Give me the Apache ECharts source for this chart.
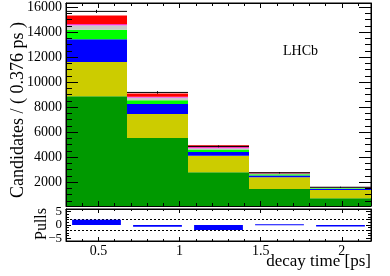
<!DOCTYPE html>
<html><head><meta charset="utf-8">
<script src="https://cdn.jsdelivr.net/npm/echarts@6/dist/echarts.min.js"></script>
<style>html,body{margin:0;padding:0;background:#fff}#c{width:390px;height:276px}</style>
</head><body><div id="c"></div>
<script>
// ---- data ----
const binEdges = [0.3, 0.676, 1.052, 1.428, 1.804, 2.18];
const binLabels = ['bin1', 'bin2', 'bin3', 'bin4', 'bin5'];
const compDarkGreen = [8870, 5520, 2790, 1450, 700];
const compYellow    = [2730, 1930, 1310, 940, 667];
const compBlue      = [1830, 790, 300, 130, 80];
const compLime      = [745, 310, 200, 100, 45];
const compGray      = [375, 210, 100, 60, 30];
const compMagenta   = [80, 60, 80, 30, 10];
const compRed       = [700, 265, 160, 60, 30];
const dataCounts = [15650, 9166, 4850, 2740, 1580];
const dataErrors = [125, 96, 70, 52, 40];
const pulls = [1.95, -0.7, -1.9, 0.25, -0.6];
const pullLimits = [2, -2];
const xMajorTicks = [0.5, 1, 1.5, 2];
const xLabelTexts = ['0.5', '1', '1.5', '2'];
const xMinorTicks = [0.4, 0.6, 0.7, 0.8, 0.9, 1.1, 1.2, 1.3, 1.4, 1.6, 1.7, 1.8, 1.9, 2.1];
const yMajorTicks = [2000, 4000, 6000, 8000, 10000, 12000, 14000, 16000];
const yMinorTicks = [500, 1000, 1500, 2500, 3000, 3500, 4500, 5000, 5500, 6500, 7000, 7500,
  8500, 9000, 9500, 10500, 11000, 11500, 12500, 13000, 13500, 14500, 15000, 15500];
const pullMajorTicks = [-5, 0, 5];
const pullLabelTexts = ['\u22125', '0', '5'];
const pullMinorTicks = [-4, -3, -2, -1, 1, 2, 3, 4];

const components = [
  { name: 'c1', data: compDarkGreen, color: '#009900' },
  { name: 'c2', data: compYellow, color: '#cccc00' },
  { name: 'c3', data: compBlue, color: '#0000ff' },
  { name: 'c4', data: compLime, color: '#00ff00' },
  { name: 'c5', data: compGray, color: '#c8c8c8' },
  { name: 'c6', data: compMagenta, color: '#ff00ff' },
  { name: 'c7', data: compRed, color: '#ff0000' }
];

const FONT = 'Liberation Serif';
const chart = echarts.init(document.getElementById('c'), null, { renderer: 'canvas' });

function xVal(grid, pos, ticks, len, showLine, label) {
  return {
    type: 'value', gridIndex: grid, min: binEdges[0], max: binEdges[binEdges.length - 1],
    position: pos, z: 10,
    axisLine: { show: showLine, onZero: false, lineStyle: { color: '#000', width: 1 } },
    axisTick: { show: true, inside: true, length: len, customValues: ticks, lineStyle: { color: '#000', width: 1 } },
    axisLabel: label || { show: false },
    splitLine: { show: false }
  };
}
function yVal(grid, pos, min, max, ticks, len, showLine, label) {
  return {
    type: 'value', gridIndex: grid, min: min, max: max, position: pos, z: 10,
    axisLine: { show: showLine, onZero: false, lineStyle: { color: '#000', width: 1 } },
    axisTick: { show: true, inside: true, length: len, customValues: ticks, lineStyle: { color: '#000', width: 1 } },
    axisLabel: label || { show: false },
    splitLine: { show: false }
  };
}

const xAxes = [
  { type: 'category', gridIndex: 0, data: binLabels, show: false, boundaryGap: true },
  xVal(0, 'bottom', xMajorTicks, 5, true),
  xVal(0, 'bottom', xMinorTicks, 3, false),
  xVal(0, 'top', xMajorTicks, 5, true),
  xVal(0, 'top', xMinorTicks, 3, false),
  xVal(1, 'bottom', xMajorTicks, 4, true, {
    show: true, customValues: xMajorTicks, margin: 3, interval: 0, showMinLabel: true, showMaxLabel: true, hideOverlap: false,
    formatter: v => xLabelTexts[xMajorTicks.indexOf(v)],
    fontFamily: FONT, fontSize: 14, color: '#000'
  }),
  xVal(1, 'bottom', xMinorTicks, 2, false),
  xVal(1, 'top', xMajorTicks, 4, true),
  xVal(1, 'top', xMinorTicks, 2, false)
];
const Y0MIN = 80, Y0MAX = 16320;
const yAxes = [
  yVal(0, 'left', Y0MIN, Y0MAX, yMajorTicks, 12, true, {
    show: true, customValues: yMajorTicks, margin: 4, interval: 0, showMinLabel: true, showMaxLabel: true, hideOverlap: false,
    formatter: v => String(v), fontFamily: FONT, fontSize: 14, color: '#000'
  }),
  yVal(0, 'left', Y0MIN, Y0MAX, yMinorTicks, 6, false),
  yVal(0, 'right', Y0MIN, Y0MAX, yMajorTicks, 12, true),
  yVal(0, 'right', Y0MIN, Y0MAX, yMinorTicks, 6, false),
  yVal(1, 'left', -6, 6, pullMajorTicks, 5, true, {
    show: true, customValues: pullMajorTicks, margin: 4, interval: 0, showMinLabel: true, showMaxLabel: true, hideOverlap: false,
    formatter: v => pullLabelTexts[pullMajorTicks.indexOf(v)],
    fontFamily: FONT, fontSize: 13, lineHeight: 12, color: '#000'
  }),
  yVal(1, 'left', -6, 6, pullMinorTicks, 3, false),
  yVal(1, 'right', -6, 6, pullMajorTicks, 5, true),
  yVal(1, 'right', -6, 6, pullMinorTicks, 3, false)
];

const series = components.map((c, i) => ({
  type: 'bar', name: c.name, stack: 'total', xAxisIndex: 0, yAxisIndex: 0,
  barCategoryGap: '0%', barGap: '0%', data: c.data, silent: true,
  itemStyle: { color: c.color }, z: 2 + i * 0.01
}));

const dataPoints = dataCounts.map((v, i) => [binEdges[i], binEdges[i + 1], v, dataErrors[i]]);
series.push({
  type: 'custom', xAxisIndex: 1, yAxisIndex: 0, z: 5, silent: true,
  encode: { x: [0, 1], y: 2 },
  data: dataPoints,
  renderItem: function (params, api) {
    const x0 = api.value(0), x1 = api.value(1), v = api.value(2), e = api.value(3);
    const xc = (x0 + x1) / 2;
    const a = api.coord([x0, v]), b = api.coord([x1, v]);
    const t = api.coord([xc, v + e]), u = api.coord([xc, v - e]);
    return {
      type: 'group', children: [
        { type: 'line', shape: { x1: a[0], y1: a[1], x2: b[0], y2: b[1] }, style: { stroke: '#000', lineWidth: 1 } },
        { type: 'line', shape: { x1: t[0], y1: t[1], x2: u[0], y2: u[1] }, style: { stroke: '#000', lineWidth: 1 } }
      ]
    };
  }
});

const pullPoints = pulls.map((p, i) => [binEdges[i], binEdges[i + 1], p]);
series.push({
  type: 'custom', xAxisIndex: 5, yAxisIndex: 4, z: 5, silent: true,
  encode: { x: [0, 1], y: 2 },
  data: pullPoints,
  renderItem: function (params, api) {
    const x0 = api.value(0), x1 = api.value(1), p = api.value(2);
    const w = x1 - x0;
    const a = api.coord([x0 + 0.1 * w, Math.max(p, 0)]);
    const b = api.coord([x1 - 0.1 * w, Math.min(p, 0)]);
    return {
      type: 'rect',
      shape: { x: a[0], y: a[1], width: b[0] - a[0], height: Math.max(b[1] - a[1], 0.8) },
      style: { fill: '#0000ff' }
    };
  },
  markLine: {
    silent: true, symbol: 'none', label: { show: false },
    lineStyle: { color: '#000', width: 1, type: [2, 2] },
    data: pullLimits.map(v => ({ yAxis: v }))
  }
});

chart.setOption({
  backgroundColor: '#fff',
  animation: false,
  grid: [
    { left: 66, top: 3, width: 305, height: 203, show: true, borderColor: '#000', borderWidth: 1, backgroundColor: 'transparent', outerBoundsMode: 'none', containLabel: false },
    { left: 66, top: 209, width: 305, height: 32, show: true, borderColor: '#000', borderWidth: 1, backgroundColor: 'transparent', outerBoundsMode: 'none', containLabel: false }
  ],
  xAxis: xAxes,
  yAxis: yAxes,
  series: series,
  graphic: [
    { type: 'text', x: 18, y: 110, rotation: Math.PI / 2, z: 20,
      style: { text: 'Candidates / ( 0.376 ps )', fontFamily: FONT, fontSize: 18, fill: '#000', align: 'center', verticalAlign: 'middle', textAlign: 'center', textVerticalAlign: 'middle' } },
    { type: 'text', x: 42, y: 224, rotation: Math.PI / 2, z: 20,
      style: { text: 'Pulls', fontFamily: FONT, fontSize: 16, fill: '#000', align: 'center', verticalAlign: 'middle', textAlign: 'center', textVerticalAlign: 'middle' } },
    { type: 'text', x: 371, y: 262, z: 20,
      style: { text: 'decay time [ps]', fontFamily: FONT, fontSize: 17, fill: '#000', align: 'right', verticalAlign: 'middle', textAlign: 'right', textVerticalAlign: 'middle' } },
    { type: 'text', x: 283, y: 51, z: 20,
      style: { text: 'LHCb', fontFamily: FONT, fontSize: 14, fill: '#000', align: 'left', verticalAlign: 'middle', textAlign: 'left', textVerticalAlign: 'middle' } }
  ]
});
</script>
</body></html>
